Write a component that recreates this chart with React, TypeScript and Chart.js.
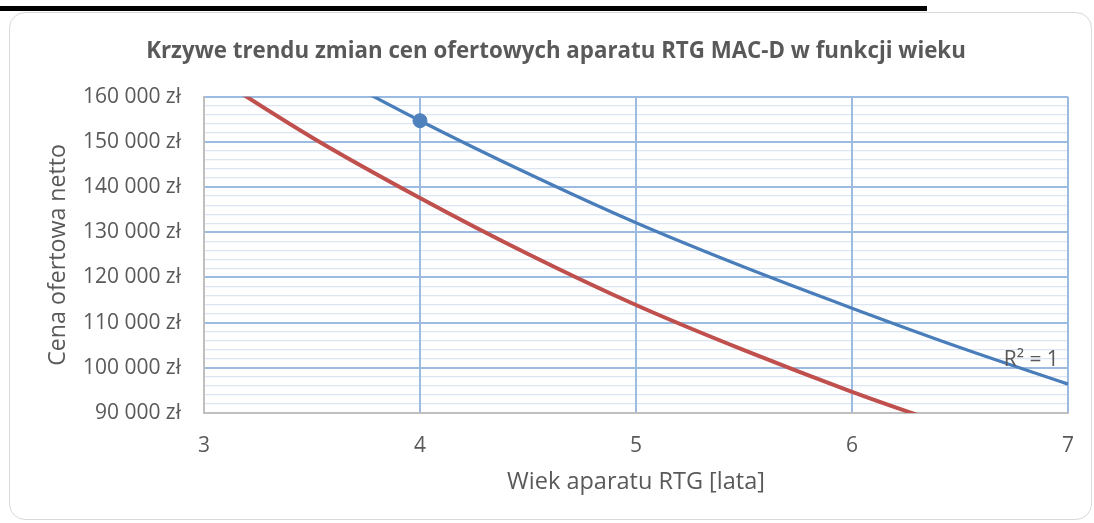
import React, { useEffect, useRef } from "react";
import { Chart, registerables } from "chart.js";

Chart.register(...registerables);

const chartTitle = "Krzywe trendu zmian cen ofertowych aparatu RTG MAC-D w funkcji wieku";
const xAxisTitle = "Wiek aparatu RTG [lata]";
const yAxisTitle = "Cena ofertowa netto";

// Blue trend curve (price vs age)
const blueAge = [3.5, 4, 4.5, 5, 5.5, 6, 6.5, 7];
const bluePrice = [167300, 154700, 143000, 132100, 122300, 113200, 104500, 96400];

// Red trend curve
const redAge = [3, 3.5, 4, 4.5, 5, 5.5, 6, 6.5];
const redPrice = [166000, 151000, 137600, 125200, 113900, 103900, 94700, 86300];

// Single observed point
const pointAge = [4];
const pointPrice = [154700];

const r2Label = "R² = 1";
const r2LabelAt = { x: 6.83, y: 101800 };

const FONT = "'Open Sans', 'DejaVu Sans', sans-serif";
const TEXT = "#595959";

export default function App() {
  const ref = useRef<HTMLCanvasElement | null>(null);

  useEffect(() => {
    if (!ref.current) return;
    const r2Plugin = {
      id: "r2label",
      afterDatasetsDraw(chart: any) {
        const { ctx, scales } = chart;
        const px = scales.x.getPixelForValue(r2LabelAt.x);
        const py = scales.y.getPixelForValue(r2LabelAt.y);
        ctx.save();
        ctx.font = `21px ${FONT}`;
        ctx.fillStyle = TEXT;
        ctx.textAlign = "center";
        ctx.textBaseline = "middle";
        ctx.fillText(r2Label, px, py);
        ctx.restore();
      },
    };

    const chart = new Chart(ref.current, {
      type: "scatter",
      data: {
        datasets: [
          {
            label: "point",
            data: pointAge.map((x, i) => ({ x, y: pointPrice[i] })),
            pointRadius: 7,
            pointBackgroundColor: "#4F81BD",
            pointBorderColor: "#4F81BD",
            showLine: false,
            order: 0,
          },
          {
            label: "blue",
            data: blueAge.map((x, i) => ({ x, y: bluePrice[i] })),
            showLine: true,
            borderColor: "#4A7EBB",
            borderWidth: 3.25,
            pointRadius: 0,
            cubicInterpolationMode: "monotone",
            order: 1,
          },
          {
            label: "red",
            data: redAge.map((x, i) => ({ x, y: redPrice[i] })),
            showLine: true,
            borderColor: "#C0504D",
            borderWidth: 4,
            pointRadius: 0,
            cubicInterpolationMode: "monotone",
            order: 2,
          },
        ],
      },
      options: {
        animation: false,
        responsive: true,
        maintainAspectRatio: false,
        layout: { padding: { left: 42, right: 24, top: 0, bottom: 0 } },
        plugins: {
          legend: { display: false },
          tooltip: { enabled: false },
          title: {
            display: true,
            text: chartTitle,
            color: TEXT,
            font: { family: FONT, size: 22.3, weight: "bold" },
            padding: { top: 38, bottom: 32 },
          },
        },
        scales: {
          x: {
            type: "linear",
            min: 3,
            max: 7,
            ticks: {
              stepSize: 1,
              color: TEXT,
              font: { family: FONT, size: 21 },
              padding: 20,
            },
            grid: { color: "#9BBBE0", lineWidth: 2, drawTicks: false, z: -1 },
            border: { color: "#BFBFBF", width: 2 },
            title: {
              display: true,
              text: xAxisTitle,
              color: TEXT,
              font: { family: FONT, size: 23.5 },
              padding: { top: 0, bottom: 27 },
            },
            afterFit(scale: any) {
              scale.height = 110;
            },
          },
          y: {
            type: "linear",
            min: 90000,
            max: 160000,
            ticks: {
              stepSize: 2000,
              maxTicksLimit: 100,
              color: TEXT,
              font: { family: FONT, size: 21 },
              padding: 23,
              autoSkip: false,
              callback: (v: any) =>
                Number(v) % 10000 === 0 ? `${Math.round(Number(v) / 1000)} 000 zł` : "",
            },
            grid: {
              z: -2,
              drawTicks: false,
              color: (c: any) => (c.tick && c.tick.value % 10000 === 0 ? "#9BBBE0" : "#DCE6F2"),
              lineWidth: (c: any) => (c.tick && c.tick.value % 10000 === 0 ? 2 : 1.3),
            },
            border: { color: "#BFBFBF", width: 2 },
            title: {
              display: true,
              text: yAxisTitle,
              color: TEXT,
              font: { family: FONT, size: 23.2 },
              padding: { top: 2, bottom: 0 },
            },
            afterFit(scale: any) {
              scale.width = 162;
            },
          },
        },
      },
      plugins: [r2Plugin],
    } as any);
    return () => chart.destroy();
  }, []);

  return (
    <>
      <div
        style={{
          position: "absolute",
          left: 0,
          top: 6,
          width: 927,
          height: 5,
          background: "#000",
        }}
      />
      <div
        style={{
          position: "absolute",
          left: 9,
          top: 12,
          width: 1083,
          height: 508,
          border: "1.5px solid #D9D9D9",
          borderRadius: 16,
          boxSizing: "border-box",
          background: "#fff",
        }}
      />
      <div style={{ position: "absolute", left: 0, top: 0, width: 1094, height: 523 }}>
        <canvas ref={ref} />
      </div>
    </>
  );
}
